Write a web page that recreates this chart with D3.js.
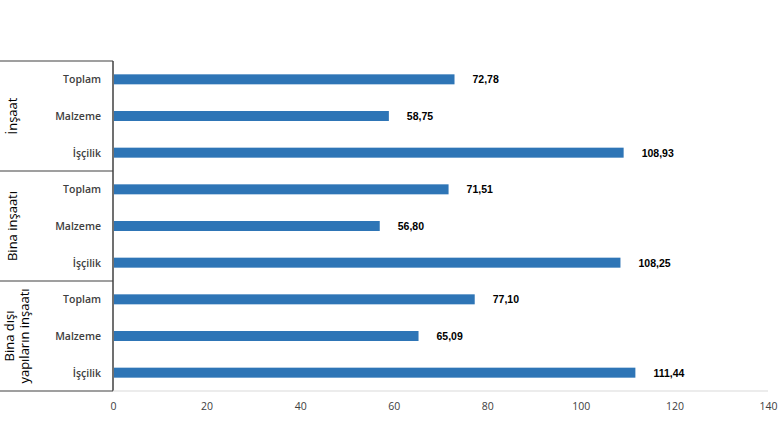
<!DOCTYPE html>
<html><head><meta charset="utf-8">
<script src="https://cdn.jsdelivr.net/npm/d3@7"></script>
<style>body{margin:0;background:#fff;font-family:"Open Sans",sans-serif}</style>
</head><body><svg id="c" width="780" height="440"></svg>
<script>
const groups = ["İnşaat","Bina inşaatı","Bina dışı yapıların inşaatı"];
const items = ["Toplam","Malzeme","İşçilik"];
const values = [72.78,58.75,108.93,71.51,56.80,108.25,77.10,65.09,111.44];
const ticks = [0,20,40,60,80,100,120,140];

const svg = d3.select("#c");
const x = d3.scaleLinear().domain([0,140]).range([113,768]);
const rows = d3.range(values.length);
const y = d3.scaleBand().domain(rows).range([61,391]).paddingInner(0);
const bh = 10;
rows.forEach(i=>{
  const cy = y(i)+y.bandwidth()/2;
  svg.append("rect").attr("x",x(0)+1).attr("y",cy-bh/2).attr("width",x(values[i])-x(0)).attr("height",bh).attr("fill","#2e75b6");
  svg.append("text").attr("x",x(values[i])+19).attr("y",cy+4).attr("font-size",10.5).attr("font-weight","bold").attr("font-family","Liberation Sans, Arial").attr("fill","#000").text(values[i].toFixed(2).replace(".",","));
  svg.append("text").attr("x",101).attr("y",cy+4).attr("text-anchor","end").attr("font-size",10.5).attr("font-weight",600).attr("fill","#404040").text(items[i%3]);
});
const seps=[61,y(3),y(6),391];
seps.forEach(s=>svg.append("line").attr("x1",0).attr("x2",113).attr("y1",s).attr("y2",s).attr("stroke","#7f7f7f").attr("stroke-width",1.5));
svg.append("line").attr("x1",113).attr("x2",113).attr("y1",61).attr("y2",391).attr("stroke","#404040").attr("stroke-width",1.5);
svg.append("line").attr("x1",113).attr("x2",768).attr("y1",391).attr("y2",391).attr("stroke","#d9d9d9");
groups.forEach((g,gi)=>{
  const cy=(seps[gi]+seps[gi+1])/2;
  const t=svg.append("text").attr("transform",`translate(${gi===2?17:13},${cy}) rotate(-90)`).attr("text-anchor","middle").attr("font-size",13).attr("fill","#000");
  if(gi===2){
    t.append("tspan").attr("x",0).attr("dy",-3).text("Bina dışı");
    t.append("tspan").attr("x",0).attr("dy",15).text("yapıların inşaatı");
  } else t.attr("dy",4).text(g);
});
const ax=svg.append("g").attr("transform","translate(0,391)").call(d3.axisBottom(x).tickValues(ticks).tickSize(0).tickPadding(12));
ax.select(".domain").remove();
ax.selectAll("text").attr("font-size",10.5).attr("fill","#404040").attr("font-family","Open Sans");
</script></body></html>
